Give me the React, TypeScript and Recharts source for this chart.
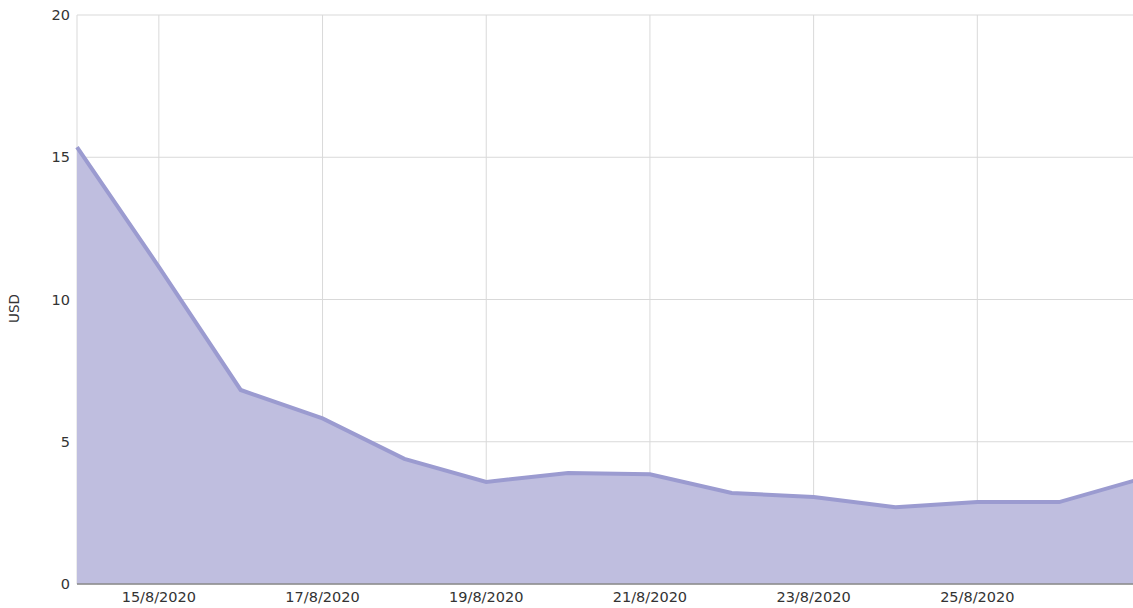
import React from 'react';
import { AreaChart, Area, XAxis, YAxis, CartesianGrid } from 'recharts';

const dates = [
  '14/8/2020', '15/8/2020', '16/8/2020', '17/8/2020', '18/8/2020', '19/8/2020', '20/8/2020',
  '21/8/2020', '22/8/2020', '23/8/2020', '24/8/2020', '25/8/2020', '26/8/2020', '27/8/2020',
];
const usd = [15.36, 11.15, 6.82, 5.82, 4.4, 3.59, 3.9, 3.86, 3.2, 3.06, 2.7, 2.88, 2.88, 3.7];
const xTicks = [1, 3, 5, 7, 9, 11];
const yTicks = [0, 5, 10, 15, 20];

const data = dates.map((d, i) => ({ idx: i, date: d, usd: usd[i] }));

export default function App() {
  return (
    <div
      style={{
        position: 'absolute',
        left: 0,
        top: 0,
        width: 1133,
        height: 608,
        overflow: 'hidden',
        fontFamily: '"DejaVu Sans", Verdana, sans-serif',
      }}
    >
      <AreaChart width={1141} height={608} data={data} margin={{ top: 15, right: 0, bottom: 0, left: 7 }}>
        <CartesianGrid stroke="#d9d9d9" strokeWidth={1} />
        <XAxis
          dataKey="idx"
          type="number"
          domain={[0, dates.length - 1]}
          ticks={xTicks}
          tickFormatter={(i: number) => dates[i]}
          tickLine={false}
          axisLine={{ stroke: '#8a8a8a', strokeWidth: 1.5 }}
          tick={{ fill: '#333', fontSize: 14.5 }}
          height={24}
          tickMargin={2}
        />
        <YAxis
          domain={[0, 20]}
          ticks={yTicks}
          tickLine={false}
          axisLine={false}
          tick={{ fill: '#333', fontSize: 14.5 }}
          width={70}
          tickMargin={1}
          label={{
            value: 'USD',
            angle: -90,
            position: 'insideLeft',
            offset: 8,
            dx: -1,
            dy: 9,
            style: { fill: '#333', fontSize: 13.5, textAnchor: 'middle' },
          }}
        />
        <Area
          type="linear"
          dataKey="usd"
          stroke="#9b9bd0"
          strokeWidth={4}
          fill="#bfbedf"
          fillOpacity={1}
          isAnimationActive={false}
          dot={false}
          activeDot={false}
        />
      </AreaChart>
    </div>
  );
}
